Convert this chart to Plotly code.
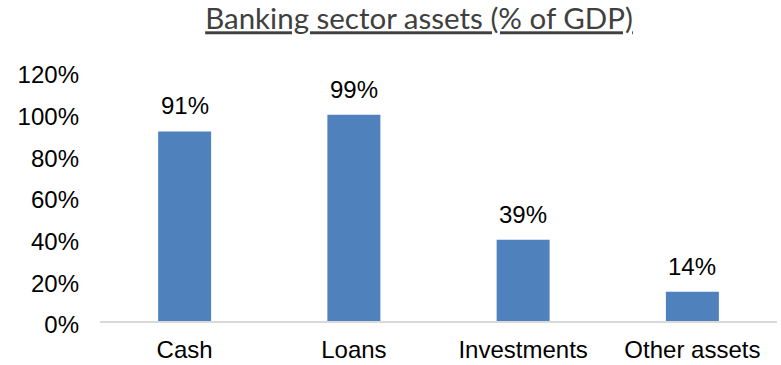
import plotly.graph_objects as go

# Banking sector assets as a share of GDP
categories = ["Cash", "Loans", "Investments", "Other assets"]
values = [91, 99, 39, 14]
tick_values = [0, 20, 40, 60, 80, 100, 120]
tick_labels = [f"{v}%" for v in tick_values]

BAR_COLOR = "#4F81BD"
TEXT_FONT = "Liberation Sans, Arial, sans-serif"

fig = go.Figure(
    go.Bar(
        x=categories,
        y=values,
        marker=dict(color=BAR_COLOR, line=dict(width=0)),
        hoverinfo="skip",
    )
)

# value labels above each bar
for cat, val in zip(categories, values):
    fig.add_annotation(
        x=cat, y=val, text=f"{val}%",
        showarrow=False, yanchor="middle", yshift=25.5,
        font=dict(family=TEXT_FONT, size=24, color="#000000"),
    )

fig.update_layout(
    width=781,
    height=365,
    margin=dict(l=100, r=4, t=70.5, b=44, autoexpand=False),
    paper_bgcolor="white",
    plot_bgcolor="white",
    bargap=0.687,
    showlegend=False,
    title=dict(
        text="<u>Banking sector assets (% of GDP)</u>",
        x=419 / 781, xanchor="center", xref="container",
        y=1 - 19 / 365, yanchor="middle", yref="container",
        font=dict(family="Lato, Carlito, Calibri, sans-serif", size=29.5, color="#404040"),
    ),
    xaxis=dict(
        automargin=False,
        showgrid=False,
        showline=True,
        linecolor="#D9D9D9",
        linewidth=1.5,
        ticks="",
        tickfont=dict(family=TEXT_FONT, size=24, color="#000000"),
        ticklabelstandoff=6,
    ),
    yaxis=dict(
        automargin=False,
        range=[0, 120],
        tickvals=tick_values,
        ticktext=tick_labels,
        showgrid=False,
        zeroline=False,
        showline=False,
        ticks="",
        tickfont=dict(family=TEXT_FONT, size=24, color="#000000"),
        ticklabelstandoff=20,
        ticklabelshift=4,
    ),
)

fig.write_html("out.html")
